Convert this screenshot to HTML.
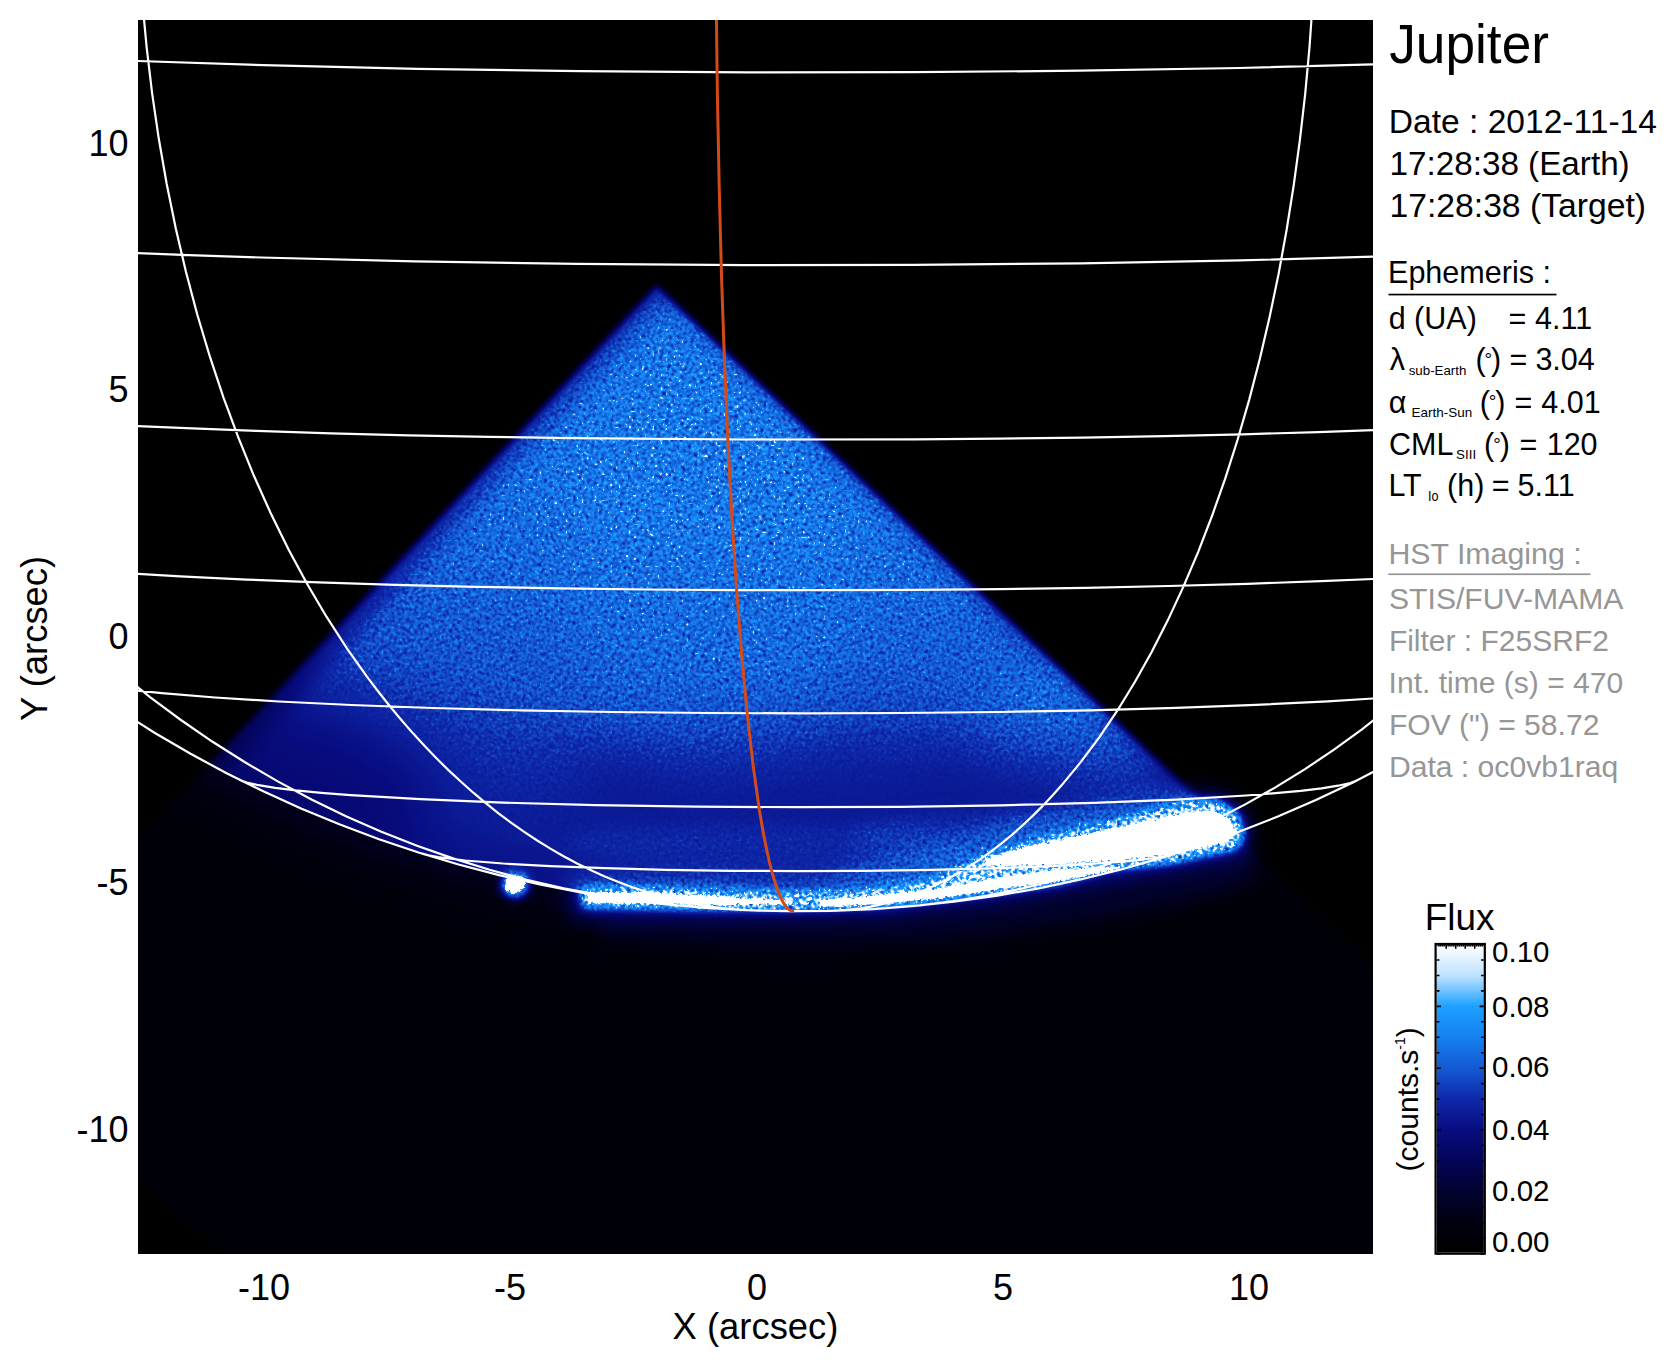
<!DOCTYPE html>
<html><head><meta charset="utf-8">
<style>
html,body{margin:0;padding:0;background:#fff;width:1677px;height:1367px;overflow:hidden}
svg{position:absolute;left:0;top:0}
text{font-family:"Liberation Sans",sans-serif;}
</style></head><body>
<svg width="1677" height="1367" viewBox="0 0 1677 1367">
<defs>
  <clipPath id="plot"><rect x="138" y="20" width="1235" height="1234"/></clipPath>
  <clipPath id="planetClip"><ellipse cx="798.8" cy="-195.4" rx="1183.2" ry="1106.6"/></clipPath>
  <filter id="soft" x="-5%" y="-5%" width="110%" height="110%"><feGaussianBlur stdDeviation="3.5"/></filter>
  <mask id="diamondMask" maskUnits="userSpaceOnUse" x="0" y="0" width="1677" height="1367">
    <path d="M656.5 284 L1500 1082.8 L1500 1400 L390.5 1400 L-38 1027 Z" fill="#fff" filter="url(#soft)"/>
  </mask>
  <radialGradient id="diskI" cx="0.5" cy="0.5" r="0.5">
    <stop offset="0" stop-color="#a6a6a6"/>
    <stop offset="0.65" stop-color="#a6a6a6"/>
    <stop offset="0.77" stop-color="#9a9a9a"/>
    <stop offset="0.835" stop-color="#929292"/>
    <stop offset="0.88" stop-color="#848484"/>
    <stop offset="0.92" stop-color="#7a7a7a"/>
    <stop offset="0.96" stop-color="#737373"/>
    <stop offset="1" stop-color="#6a6a6a"/>
  </radialGradient>
  <filter id="cmap" x="138" y="20" width="1235" height="1234" filterUnits="userSpaceOnUse" color-interpolation-filters="sRGB">
    <feTurbulence type="fractalNoise" baseFrequency="0.62" numOctaves="1" seed="5" result="noise"/>
    <feColorMatrix in="noise" type="matrix" values="1 0 0 0 0  1 0 0 0 0  1 0 0 0 0  0 0 0 0 1" result="gn0"/>
    <feGaussianBlur in="gn0" stdDeviation="1.0" result="gnb"/>
    <feComponentTransfer in="gnb" result="gn"><feFuncR type="linear" slope="7.500" intercept="-3.250"/><feFuncG type="linear" slope="7.500" intercept="-3.250"/><feFuncB type="linear" slope="7.500" intercept="-3.250"/></feComponentTransfer>
    <feComponentTransfer in="SourceGraphic" result="J"><feFuncR type="linear" slope="1.7857" intercept="-0.7857"/><feFuncG type="linear" slope="1.7857" intercept="-0.7857"/><feFuncB type="linear" slope="1.7857" intercept="-0.7857"/><feFuncA type="linear" slope="0" intercept="1"/></feComponentTransfer>
    <feComposite in="J" in2="gn" operator="arithmetic" k1="1" k2="0" k3="0" k4="0" result="jn"/>
    <feComposite in="SourceGraphic" in2="J" operator="arithmetic" k1="0" k2="1" k3="-0.475" k4="0" result="p"/>
    <feComposite in="p" in2="jn" operator="arithmetic" k1="0" k2="1" k3="0.950" k4="0" result="sum"/>
    <feTurbulence type="fractalNoise" baseFrequency="0.38" numOctaves="1" seed="21" result="n2"/>
    <feColorMatrix in="n2" type="matrix" values="1 0 0 0 0  1 0 0 0 0  1 0 0 0 0  0 0 0 0 1" result="g2"/>
    <feGaussianBlur in="g2" stdDeviation="0.4" result="g2b"/>
    <feComponentTransfer in="g2b" result="spk"><feFuncR type="linear" slope="8" intercept="-4.96"/><feFuncG type="linear" slope="8" intercept="-4.96"/><feFuncB type="linear" slope="8" intercept="-4.96"/></feComponentTransfer>
    <feComposite in="J" in2="spk" operator="arithmetic" k1="1" k2="0" k3="0" k4="0" result="jspk"/>
    <feComposite in="sum" in2="jspk" operator="arithmetic" k1="0" k2="1" k3="0.6" k4="0" result="sum2"/>
    <feComponentTransfer in="sum2">
      <feFuncR type="table" tableValues="0.000 0.000 0.008 0.016 0.031 0.055 0.078 0.086 0.110 0.745 1.000"/>
      <feFuncG type="table" tableValues="0.000 0.000 0.008 0.016 0.047 0.157 0.353 0.502 0.627 0.882 1.000"/>
      <feFuncB type="table" tableValues="0.000 0.063 0.188 0.345 0.502 0.667 0.831 0.941 1.000 1.000 1.000"/>
      <feFuncA type="linear" slope="0" intercept="1"/>
    </feComponentTransfer>
  </filter>
  <radialGradient id="speckMaskG" cx="0.5" cy="0.5" r="0.5">
    <stop offset="0" stop-color="#fff"/>
    <stop offset="0.74" stop-color="#fff"/>
    <stop offset="0.84" stop-color="#888"/>
    <stop offset="0.95" stop-color="#666"/>
    <stop offset="1" stop-color="#444"/>
  </radialGradient>
  <mask id="speckMask" maskUnits="userSpaceOnUse" x="0" y="0" width="1677" height="1367">
    <ellipse cx="798.8" cy="-195.4" rx="1183.2" ry="1106.6" fill="url(#speckMaskG)"/>
  </mask>
  
  <linearGradient id="cbar" x1="0" y1="1252.6" x2="0" y2="945.1" gradientUnits="userSpaceOnUse"><stop offset="0.00" stop-color="rgb(0,0,0)"/><stop offset="0.10" stop-color="rgb(0,0,16)"/><stop offset="0.20" stop-color="rgb(2,2,48)"/><stop offset="0.30" stop-color="rgb(4,4,88)"/><stop offset="0.40" stop-color="rgb(8,12,128)"/><stop offset="0.50" stop-color="rgb(14,40,170)"/><stop offset="0.60" stop-color="rgb(20,90,212)"/><stop offset="0.70" stop-color="rgb(22,128,240)"/><stop offset="0.80" stop-color="rgb(28,160,255)"/><stop offset="0.90" stop-color="rgb(190,225,255)"/><stop offset="1.00" stop-color="rgb(255,255,255)"/></linearGradient>
  <filter id="ragged" x="-10%" y="-50%" width="120%" height="200%">
    <feTurbulence type="fractalNoise" baseFrequency="0.35" numOctaves="2" seed="9" result="t"/>
    <feDisplacementMap in="SourceGraphic" in2="t" scale="6" xChannelSelector="R" yChannelSelector="G" result="d"/>
    <feGaussianBlur in="d" stdDeviation="0.7"/>
  </filter>
  <filter id="blur15" x="-20%" y="-50%" width="140%" height="200%"><feGaussianBlur stdDeviation="1.3"/></filter>
  <filter id="blur2" x="-20%" y="-50%" width="140%" height="200%"><feGaussianBlur stdDeviation="2"/></filter>
  <filter id="blur4" x="-20%" y="-50%" width="140%" height="200%"><feGaussianBlur stdDeviation="4"/></filter>
  <filter id="blur10" x="-20%" y="-80%" width="140%" height="260%"><feGaussianBlur stdDeviation="10"/></filter>
  <filter id="blur30" x="-50%" y="-80%" width="200%" height="260%"><feGaussianBlur stdDeviation="30"/></filter>
</defs>
<rect x="138" y="20" width="1235" height="1234" fill="#000"/>
<g clip-path="url(#plot)">
 <g filter="url(#cmap)">
  <rect x="138" y="20" width="1235" height="1234" fill="#000"/>
  <g mask="url(#diamondMask)">
   <rect x="138" y="20" width="1235" height="1234" fill="#0e0e0e"/>
   <ellipse cx="798.8" cy="-195.4" rx="1183.2" ry="1106.6" fill="none" stroke="#262626" stroke-width="50" filter="url(#blur30)"/>
   <ellipse cx="798.8" cy="-195.4" rx="1183.2" ry="1106.6" fill="none" stroke="#262626" stroke-width="20" filter="url(#blur10)"/>
   <path d="M600 915 Q800 935 1000 905 T1250 845 L1260 880 Q1000 960 600 935 Z" fill="#303030" filter="url(#blur10)"/>
   <ellipse cx="798.8" cy="-195.4" rx="1183.2" ry="1106.6" fill="url(#diskI)"/>
   <g clip-path="url(#planetClip)">
    <ellipse cx="260" cy="790" rx="170" ry="90" fill="#000" opacity="0.14" filter="url(#blur30)"/>
    <path d="M656.5 284 L-38 1027" stroke="#000" stroke-width="36" opacity="0.22" filter="url(#blur10)"/>
    <path d="M656.5 284 L1500 1082.8" stroke="#000" stroke-width="20" opacity="0.15" filter="url(#blur10)"/>
    <ellipse cx="830" cy="775" rx="270" ry="60" fill="#000" opacity="0.11" filter="url(#blur30)"/>
    <ellipse cx="1090" cy="718" rx="115" ry="62" fill="#fff" opacity="0.15" filter="url(#blur30)"/>
    <ellipse cx="770" cy="845" rx="210" ry="24" fill="#fff" opacity="0.08" filter="url(#blur10)"/>
    <ellipse cx="710" cy="560" rx="140" ry="230" fill="#fff" opacity="0.06" filter="url(#blur30)"/>
   </g>
  </g>
  <g id="aurora">
   <path d="M570.0 876.0 L700.0 872.0 L800.0 876.0 L880.0 864.0 L950.0 844.0 L1000.0 824.0 L1077.0 808.0 L1140.0 796.0 L1186.0 788.0 L1225.0 790.0 L1250.0 813.0 L1256.0 842.0 L1240.0 858.0 L1170.0 872.0 L1000.0 902.0 L880.0 916.0 L720.0 920.0 L570.0 918.0 Z" fill="#a8a8a8" filter="url(#blur10)" opacity="0.55"/>
   <ellipse cx="930" cy="872" rx="90" ry="14" fill="#c0c0c0" opacity="0.25" filter="url(#blur10)"/>
   <ellipse cx="1030" cy="836" rx="180" ry="26" fill="#ffffff" opacity="0.10" filter="url(#blur10)"/>
   <path d="M580.0 887.0 L650.0 887.0 L720.0 890.0 L800.0 892.0 L870.0 889.0 L930.0 880.0 L980.0 858.0 L1040.0 838.0 L1100.0 824.0 L1150.0 810.0 L1190.0 800.0 L1218.0 799.0 L1240.0 814.0 L1246.0 836.0 L1236.0 850.0 L1170.0 864.0 L1108.0 870.0 L1062.0 884.0 L1000.0 893.0 L940.0 901.0 L880.0 907.0 L800.0 910.0 L720.0 910.0 L650.0 909.0 L582.0 908.0 Z" fill="#dcdcdc" filter="url(#blur4)"/>
   <ellipse cx="515" cy="885" rx="15" ry="14" fill="#c0c0c0" filter="url(#blur4)"/>
  </g>
 </g>
 <g id="aurcore">
  <path d="M586.0 892.0 L640.0 892.0 L700.0 895.0 L750.0 898.0 L790.0 901.0 L790.0 904.0 L750.0 905.0 L700.0 905.0 L640.0 904.0 L590.0 903.0 Z M820.0 900.0 L880.0 895.0 L940.0 888.0 L1000.0 877.0 L1062.0 869.0 L1120.0 866.0 L1120.0 869.0 L1062.0 881.0 L1000.0 889.0 L940.0 898.0 L880.0 904.0 L820.0 907.0 Z M985.0 858.0 L1030.0 846.0 L1077.0 836.0 L1140.0 822.0 L1186.0 812.0 L1214.0 810.0 L1230.0 820.0 L1236.0 833.0 L1228.0 842.0 L1170.0 855.0 L1108.0 861.0 L1046.0 865.0 L1000.0 866.0 L985.0 864.0 Z" fill="#ffffff" filter="url(#ragged)"/>
  <path d="M506 879 Q512 874 520 876 Q526 878 525 884 Q524 891 516 893 Q507 894 505 888 Z" fill="#ffffff" filter="url(#ragged)"/>
 </g>
 <path d="M120.2 60.4 L263.3 65.2 L417.4 68.8 L579.6 71.2 L746.3 72.3 L914.5 72.2 L1079.8 70.7 L1239.4 68.0 L1389.7 64.0 M120.1 252.4 L188.6 255.1 L261.0 257.5 L414.6 261.3 L577.3 263.9 L745.1 265.1 L914.2 264.9 L1081.0 263.3 L1240.7 260.4 L1390.0 256.2 M120.2 425.3 L186.1 428.2 L256.5 430.9 L330.9 433.3 L408.6 435.3 L489.2 436.9 L572.4 438.2 L742.4 439.5 L914.5 439.3 L999.4 438.6 L1082.8 437.6 L1164.1 436.1 L1242.8 434.3 L1318.3 432.1 L1389.9 429.6 M120.1 572.8 L180.2 576.4 L246.6 579.6 L318.7 582.4 L395.4 584.8 L476.4 586.8 L560.5 588.4 L647.3 589.5 L735.6 590.1 L824.3 590.2 L913.0 589.9 L1000.6 589.1 L1086.0 587.8 L1168.5 586.0 L1247.1 583.8 L1321.0 581.2 L1389.8 578.3 M120.0 688.4 L139.5 690.8 L161.8 693.1 L215.1 697.5 L278.8 701.5 L351.6 705.0 L432.4 708.0 L519.9 710.3 L612.2 712.0 L708.0 713.0 L805.2 713.4 L902.5 713.0 L997.9 712.0 L1089.6 710.3 L1176.3 707.9 L1256.0 704.9 L1327.8 701.4 L1389.9 697.4 M239.5 779.8 L242.5 781.1 L246.7 782.5 L258.6 785.2 L275.1 787.8 L296.0 790.4 L321.3 792.8 L350.6 795.1 L420.4 799.2 L502.9 802.6 L595.6 805.1 L695.2 806.7 L798.3 807.2 L901.4 806.8 L1001.0 805.3 L1093.7 802.9 L1176.4 799.6 L1246.2 795.5 L1275.4 793.2 L1300.7 790.8 L1321.6 788.3 L1338.1 785.7 L1350.1 783.0 L1354.3 781.6 L1357.3 780.2 M422.1 853.6 L428.6 855.4 L438.0 857.2 L465.2 860.5 L503.0 863.5 L550.1 866.1 L605.0 868.2 L665.9 869.8 L731.0 870.8 L798.3 871.1 L865.6 870.9 L930.7 869.9 L991.7 868.4 L1046.6 866.3 L1093.7 863.7 L1131.5 860.8 L1158.7 857.5 L1168.1 855.7 L1174.6 854.0 M677.3 905.4 L639.2 901.1 L601.3 895.4 L563.8 888.3 L526.5 879.7 L489.6 869.8 L453.0 858.4 L417.0 845.8 L381.4 831.7 L346.5 816.4 L312.0 799.7 L278.2 781.6 L245.0 762.3 L212.6 741.8 L180.9 720.0 L150.0 697.1 L120.1 673.0 M758.3 910.6 L744.1 910.0 L729.9 908.9 L715.7 907.3 L701.5 905.2 L687.5 902.6 L673.3 899.4 L659.4 895.8 L645.5 891.6 L631.7 887.0 L617.8 881.8 L604.1 876.2 L590.6 870.0 L577.1 863.4 L563.6 856.2 L550.4 848.6 L537.2 840.5 L524.2 831.9 L511.3 822.8 L498.5 813.3 L485.8 803.2 L473.3 792.7 L461.0 781.8 L448.7 770.4 L436.7 758.5 L424.9 746.3 L413.2 733.6 L401.6 720.3 L390.3 706.8 L379.2 692.8 L368.2 678.3 L346.9 648.3 L326.5 616.7 L306.9 583.5 L288.3 549.0 L270.6 513.0 L253.9 475.8 L238.2 437.2 L223.5 397.6 L209.9 356.7 L197.4 315.0 L186.0 272.1 L175.8 228.5 L166.7 184.0 L158.8 138.8 L152.1 93.1 L146.6 46.9 L142.2 0.1 M827.2 910.9 L838.4 910.6 L849.6 909.7 L860.8 908.3 L871.9 906.4 L883.1 903.9 L894.2 901.0 L905.2 897.5 L916.1 893.5 L927.1 889.0 L937.9 884.0 L948.7 878.5 L959.5 872.4 L970.1 865.9 L980.7 858.9 L991.2 851.4 L1001.5 843.4 L1011.9 834.8 L1022.1 825.8 L1032.2 816.4 L1042.2 806.4 L1052.0 796.0 L1061.8 785.1 L1080.9 761.9 L1099.6 736.9 L1117.6 710.2 L1135.0 681.8 L1151.8 651.8 L1167.9 620.1 L1183.3 586.9 L1198.1 552.1 L1212.0 516.0 L1225.2 478.6 L1237.5 440.0 L1249.1 400.1 L1259.8 359.0 L1269.6 317.0 L1278.6 273.9 L1286.6 230.0 L1293.7 185.3 L1299.9 139.9 L1305.2 93.8 L1309.5 47.2 L1312.8 0.0 M885.9 908.2 L919.9 905.4 L953.7 901.2 L987.4 895.6 L1021.0 888.7 L1054.1 880.5 L1087.0 871.0 L1119.5 860.3 L1151.6 848.2 L1183.3 834.8 L1214.5 820.2 L1245.2 804.4 L1275.4 787.4 L1305.0 769.1 L1334.0 749.7 L1362.3 729.1 L1389.9 707.4 M120.1 711.0 L154.9 733.0 L190.6 753.8 L226.6 773.2 L263.8 791.6 L301.6 808.8 L340.0 824.6 L379.0 839.2 L418.5 852.5 L458.5 864.5 L499.0 875.1 L539.8 884.4 L580.5 892.3 L622.0 898.8 L663.2 904.0 L705.0 907.8 L747.0 910.2 L788.9 911.2 L830.9 910.8 L872.9 909.1 L914.4 906.0 L955.8 901.5 L997.3 895.6 L1038.6 888.3 L1079.5 879.7 L1120.2 869.7 L1160.4 858.3 L1199.8 845.8 L1239.0 831.8 L1277.8 816.6 L1315.9 800.0 L1353.0 782.4 L1389.7 763.4" fill="none" stroke="#fff" stroke-width="2.2"/>
 <path d="M794.2 911.2 L792.3 911.1 L790.5 910.5 L788.7 909.3 L786.9 907.6 L783.3 902.7 L779.8 895.6 L776.3 886.5 L772.8 875.3 L769.4 862.0 L766.0 846.7 L762.7 829.4 L759.4 810.2 L753.2 766.0 L747.3 714.4 L741.8 655.9 L736.7 590.8 L732.1 519.7 L728.0 443.2 L724.5 361.8 L721.5 276.1 L719.2 186.8 L717.4 94.6 L716.2 0.1" fill="none" stroke="#d44a1a" stroke-width="3"/>
</g>
<text x="264.0" y="1300.4" font-size="36" text-anchor="middle">-10</text>
<text x="510.0" y="1300.4" font-size="36" text-anchor="middle">-5</text>
<text x="757.0" y="1300.4" font-size="36" text-anchor="middle">0</text>
<text x="1003.0" y="1300.4" font-size="36" text-anchor="middle">5</text>
<text x="1249.0" y="1300.4" font-size="36" text-anchor="middle">10</text>
<text x="128.6" y="156.2" font-size="36" text-anchor="end">10</text>
<text x="128.6" y="401.8" font-size="36" text-anchor="end">5</text>
<text x="128.6" y="649.2" font-size="36" text-anchor="end">0</text>
<text x="128.6" y="895.4" font-size="36" text-anchor="end">-5</text>
<text x="128.6" y="1141.6" font-size="36" text-anchor="end">-10</text>
<text x="672.6" y="1339.0" font-size="36.40">X (arcsec)</text>
<text transform="translate(47,638.4) rotate(-90)" font-size="36.4" text-anchor="middle">Y (arcsec)</text>
<text x="1389.2" y="62.9" font-size="55.00" textLength="159.8" lengthAdjust="spacingAndGlyphs">Jupiter</text>
<text x="1388.8" y="132.8" font-size="33.40" textLength="268.1" lengthAdjust="spacingAndGlyphs">Date : 2012-11-14</text>
<text x="1389.5" y="174.7" font-size="33.40" textLength="240.2" lengthAdjust="spacingAndGlyphs">17:28:38 (Earth)</text>
<text x="1389.5" y="216.9" font-size="33.40" textLength="256.5" lengthAdjust="spacingAndGlyphs">17:28:38 (Target)</text>
<text x="1388.0" y="283.3" font-size="30.50" textLength="163.0" lengthAdjust="spacingAndGlyphs">Ephemeris :</text>
<rect x="1388.5" y="293.7" width="168" height="1.7" fill="#000"/>
<text x="1388.7" y="328.8" font-size="30.50">d (UA)</text>
<text x="1508.4" y="328.8" font-size="30.50">=</text>
<text x="1535.1" y="328.8" font-size="30.50">4.11</text>
<text x="1389.8" y="370.2" font-size="30.50">λ</text>
<text x="1408.7" y="374.8" font-size="12.80" textLength="57.7" lengthAdjust="spacingAndGlyphs">sub-Earth</text>
<text x="1475.5" y="370.2" font-size="30.50">(</text>
<text x="1484.6" y="365.7" font-size="19.00">°</text>
<text x="1491.1" y="370.2" font-size="30.50">)</text>
<text x="1509.5" y="370.2" font-size="30.50">=</text>
<text x="1535.4" y="370.2" font-size="30.50">3.04</text>
<text x="1388.7" y="412.9" font-size="30.50">α</text>
<text x="1411.6" y="416.9" font-size="12.20" textLength="60.6" lengthAdjust="spacingAndGlyphs">Earth-Sun</text>
<text x="1479.7" y="412.9" font-size="30.50">(</text>
<text x="1488.8" y="408.4" font-size="19.00">°</text>
<text x="1495.3" y="412.9" font-size="30.50">)</text>
<text x="1514.5" y="412.9" font-size="30.50">=</text>
<text x="1541.3" y="412.9" font-size="30.50">4.01</text>
<text x="1389.0" y="455.2" font-size="30.50">CML</text>
<text x="1456.1" y="458.8" font-size="13.00" textLength="20.0" lengthAdjust="spacingAndGlyphs">SIII</text>
<text x="1484.1" y="455.2" font-size="30.50">(</text>
<text x="1493.2" y="450.7" font-size="19.00">°</text>
<text x="1499.7" y="455.2" font-size="30.50">)</text>
<text x="1519.5" y="455.2" font-size="30.50">=</text>
<text x="1546.7" y="455.2" font-size="30.50">120</text>
<text x="1388.4" y="496.3" font-size="30.50">LT</text>
<text x="1428.0" y="500.9" font-size="14.00" textLength="10.5" lengthAdjust="spacingAndGlyphs">Io</text>
<text x="1447.1" y="496.3" font-size="30.50">(h)</text>
<text x="1491.7" y="496.3" font-size="30.50">=</text>
<text x="1517.6" y="496.3" font-size="30.50">5.11</text>
<text x="1388.4" y="564.2" font-size="30.20" fill="#969696" textLength="193.3" lengthAdjust="spacingAndGlyphs">HST Imaging :</text>
<rect x="1388.3" y="573.4" width="202.1" height="1.7" fill="#969696"/>
<text x="1389.0" y="608.8" font-size="30.20" fill="#969696" textLength="234.4" lengthAdjust="spacingAndGlyphs">STIS/FUV-MAMA</text>
<text x="1388.9" y="650.6" font-size="30.20" fill="#969696" textLength="220.0" lengthAdjust="spacingAndGlyphs">Filter : F25SRF2</text>
<text x="1388.6" y="693.1" font-size="30.20" fill="#969696" textLength="234.6" lengthAdjust="spacingAndGlyphs">Int. time (s) = 470</text>
<text x="1388.9" y="734.8" font-size="30.20" fill="#969696" textLength="210.5" lengthAdjust="spacingAndGlyphs">FOV (&quot;) = 58.72</text>
<text x="1388.9" y="776.9" font-size="30.20" fill="#969696" textLength="229.3" lengthAdjust="spacingAndGlyphs">Data : oc0vb1raq</text>
<text x="1424.8" y="929.7" font-size="37.50" textLength="69.7" lengthAdjust="spacingAndGlyphs">Flux</text>
<text x="1492.1" y="962.4" font-size="29.50">0.10</text>
<text x="1492.1" y="1017.0" font-size="29.50">0.08</text>
<text x="1492.1" y="1077.1" font-size="29.50">0.06</text>
<text x="1492.1" y="1139.7" font-size="29.50">0.04</text>
<text x="1492.1" y="1200.6" font-size="29.50">0.02</text>
<text x="1492.1" y="1251.8" font-size="29.50">0.00</text>
<text transform="translate(1418,1099.3) rotate(-90)" font-size="30" text-anchor="middle">(counts.s<tspan font-size="14" dy="-13">-1</tspan><tspan dy="13">)</tspan></text>
<rect x="1436.7" y="945.1" width="47.1" height="307.5" fill="url(#cbar)"/>
<path d="M1436.7 1253.6h4.2M1483.8 1253.6h-4.2M1436.7 1238.1h2.8M1483.8 1238.1h-2.8M1436.7 1222.7h2.8M1483.8 1222.7h-2.8M1436.7 1207.2h2.8M1483.8 1207.2h-2.8M1436.7 1191.8h4.2M1483.8 1191.8h-4.2M1436.7 1176.3h2.8M1483.8 1176.3h-2.8M1436.7 1160.9h2.8M1483.8 1160.9h-2.8M1436.7 1145.4h2.8M1483.8 1145.4h-2.8M1436.7 1130.0h4.2M1483.8 1130.0h-4.2M1436.7 1114.5h2.8M1483.8 1114.5h-2.8M1436.7 1099.1h2.8M1483.8 1099.1h-2.8M1436.7 1083.6h2.8M1483.8 1083.6h-2.8M1436.7 1068.2h4.2M1483.8 1068.2h-4.2M1436.7 1052.8h2.8M1483.8 1052.8h-2.8M1436.7 1037.3h2.8M1483.8 1037.3h-2.8M1436.7 1021.8h2.8M1483.8 1021.8h-2.8M1436.7 1006.4h4.2M1483.8 1006.4h-4.2M1436.7 990.9h2.8M1483.8 990.9h-2.8M1436.7 975.5h2.8M1483.8 975.5h-2.8M1436.7 960.0h2.8M1483.8 960.0h-2.8M1436.7 944.6h4.2M1483.8 944.6h-4.2M1446.2 945.1v3.6M1455.7 945.1v3.6M1465.2 945.1v3.6M1474.7 945.1v3.6M1438.6 945.1v1.4M1440.5 945.1v1.4M1442.4 945.1v1.4M1444.3 945.1v1.4M1448.1 945.1v1.4M1450.0 945.1v1.4M1451.9 945.1v1.4M1453.8 945.1v1.4M1457.6 945.1v1.4M1459.5 945.1v1.4M1461.4 945.1v1.4M1463.3 945.1v1.4M1467.1 945.1v1.4M1469.0 945.1v1.4M1470.9 945.1v1.4M1472.8 945.1v1.4M1476.6 945.1v1.4M1478.5 945.1v1.4M1480.4 945.1v1.4M1482.3 945.1v1.4" stroke="#000" stroke-width="1.6" fill="none"/>
<rect x="1435.6" y="944.0" width="49.2" height="309.7" fill="none" stroke="#000" stroke-width="2.2"/>
</svg>
</body></html>
